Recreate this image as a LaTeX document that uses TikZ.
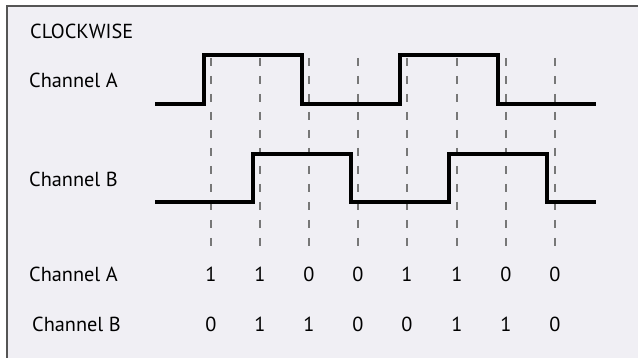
\documentclass[tikz,border=0pt]{standalone}
\usepackage{fontspec}
\setmainfont{PT Sans}
\definecolor{bgc}{HTML}{F0EFF4}
\definecolor{framec}{HTML}{555555}
\definecolor{dashc}{HTML}{777777}
\tikzset{
  lbl/.style={anchor=base west, inner sep=0pt, font=\fontsize{20.3}{24}\selectfont, text=black},
  num/.style={anchor=base, inner sep=0pt, font=\fontsize{20.3}{24}\selectfont, text=black},
  wave/.style={line width=4pt, black, line join=miter},
  guide/.style={dashc, line width=1.2pt, dash pattern=on 8pt off 10pt}
}
\begin{document}
\begin{tikzpicture}[x=1pt,y=-1pt]
\useasboundingbox (0,0) rectangle (638,358);
\fill[white] (0,0) rectangle (638,358);
\fill[bgc] (7,6) rectangle (638,358);
\draw[framec, line width=1.6pt] (7,358) -- (7,6) -- (638,6);
% labels
\node[lbl] (cw) at (30,39) {CLOCKWISE};
\node[lbl] (la) at (29,88) {Channel A};
\node[lbl] (lb) at (29,187) {Channel B};
\node[lbl] (ra) at (29,282) {Channel A};
\node[lbl] (rb) at (32,332) {Channel B};
% guides
\foreach \i/\x/\a/\b in {1/211/1/0, 2/260/1/1, 3/309/0/1, 4/358/0/0, 5/407/1/0, 6/457/1/1, 7/506/0/1, 8/555/0/0}{
  \coordinate (gt\i) at (\x,58);
  \coordinate (gb\i) at (\x,250);
  \draw[guide] (gt\i) -- (gb\i);
  \node[num] (na\i) at (\x,282) {\a};
  \node[num] (nb\i) at (\x,332) {\b};
}
% waveforms
\draw[wave] (155,104) -- (204,104) -- (204,55) -- (302,55) -- (302,104) -- (400,104) -- (400,55) -- (498,55) -- (498,104) -- (596,104);
\draw[wave] (155,202) -- (253,202) -- (253,154) -- (351,154) -- (351,202) -- (449,202) -- (449,154) -- (547,154) -- (547,202) -- (596,202);
\end{tikzpicture}
\end{document}
